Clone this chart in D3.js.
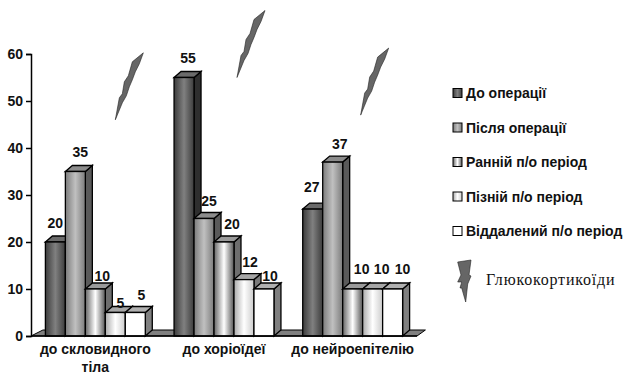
<!DOCTYPE html>
<html>
<head>
<meta charset="utf-8">
<style>
  body { margin: 0; background: #fff; }
  svg text { font-family: "Liberation Sans", Arial, sans-serif; font-weight: bold; fill: #111; }
</style>
</head>
<body>
<svg id="chart" width="625" height="376"></svg>
<script src="https://cdn.jsdelivr.net/npm/d3@7"></script>
<script>
const categories = ["до скловидного тіла", "до хоріоїдеї", "до нейроепітелію"];
const seriesNames = ["До операції", "Після операції", "Ранній п/о період", "Пізній п/о період", "Віддалений п/о період"];
const beforeOp = [20, 55, 27];
const afterOp = [35, 25, 37];
const earlyPeriod = [10, 20, 10];
const latePeriod = [5, 12, 10];
const remotePeriod = [5, 10, 10];
const yTicks = [0, 10, 20, 30, 40, 50, 60];
const steroidLevels = [46, 55, 47];
const steroidLabel = "Глюкокортикоїди";

const seriesValues = [beforeOp, afterOp, earlyPeriod, latePeriod, remotePeriod];

const width = 625;
const height = 376;
const margin = { top: 54, left: 31, bottom: 40, right: 208 };
const depthX = 7;
const depthY = 6;
const boltOffset = [20, 13, 8];

const fills = [
  { stops: ["#3c3c3c", "#808080", "#3c3c3c"], side: "#2e2e2e", top: "#6a6a6a" },
  { stops: ["#7c7c7c", "#c0c0c0", "#7c7c7c"], side: "#5a5a5a", top: "#8c8c8c" },
  { stops: ["#666666", "#ffffff", "#555555"], side: "#6e6e6e", top: "#9a9a9a" },
  { stops: ["#aaaaaa", "#ffffff", "#cccccc"], side: "#7a7a7a", top: "#a6a6a6" },
  { stops: ["#ffffff", "#ffffff"], side: "#808080", top: "#b0b0b0" }
];

// nudges for the value labels, they don't sit centred on the bars in the original
const labelShift = [
  [[0, -2], [5, -3], [7, 4], [5, 7], [6, -1]],
  [[4, -3], [5, -1], [8, -1], [6, -1], [6, 4]],
  [[-1, -5], [7, -1], [9, -3], [9, -3], [10, -3]]
];

const svg = d3.select("#chart");
const defs = svg.append("defs");

fills.forEach((f, i) => {
  const grad = defs.append("linearGradient").attr("id", "fill" + i);
  f.stops.forEach((c, j) => {
    grad.append("stop")
      .attr("offset", j / (f.stops.length - 1))
      .attr("stop-color", c);
  });
});

const x0 = d3.scaleBand()
  .domain(categories)
  .range([margin.left, width - margin.right])
  .padding(0);

const x1 = d3.scaleBand()
  .domain(d3.range(seriesNames.length))
  .range([0, x0.bandwidth()])
  .paddingOuter(0.72)
  .paddingInner(0);

const y = d3.scaleLinear()
  .domain([0, 60])
  .range([height - margin.bottom, margin.top]);

// floor strip behind the bars
const floorLeft = x0.range()[0];
const floorRight = x0.range()[1];
svg.append("path")
  .attr("d", d3.line()([
    [floorLeft, y(0)],
    [floorLeft + depthX * 1.7, y(0) - depthY],
    [floorRight + depthX * 1.2, y(0) - depthY],
    [floorRight, y(0)]
  ]) + "Z")
  .attr("fill", "#808080")
  .attr("stroke", "#000")
  .attr("stroke-width", 1);

const groups = svg.selectAll("g.group")
  .data(categories)
  .enter()
  .append("g")
  .attr("class", "group")
  .attr("transform", d => "translate(" + x0(d) + ",0)");

groups.each(function (cat, c) {
  const g = d3.select(this);
  seriesValues.forEach((vals, s) => {
    const bx = x1(s);
    const bw = x1.bandwidth();
    const by = y(vals[c]);
    const base = y(0);
    const bar = g.append("g").attr("class", "bar");
    bar.append("path")
      .attr("d", d3.line()([[bx + bw, by], [bx + bw + depthX, by - depthY], [bx + bw + depthX, base - depthY], [bx + bw, base]]) + "Z")
      .attr("fill", fills[s].side)
      .attr("stroke", "#000")
      .attr("stroke-width", 1.3);
    bar.append("path")
      .attr("d", d3.line()([[bx, by], [bx + depthX, by - depthY], [bx + bw + depthX, by - depthY], [bx + bw, by]]) + "Z")
      .attr("fill", fills[s].top)
      .attr("stroke", "#000")
      .attr("stroke-width", 1.3);
    bar.append("rect")
      .attr("x", bx)
      .attr("y", by)
      .attr("width", bw)
      .attr("height", base - by)
      .attr("fill", "url(#fill" + s + ")")
      .attr("stroke", "#000")
      .attr("stroke-width", 1.3);
  });
});

// value labels go on top of everything
groups.each(function (cat, c) {
  const g = d3.select(this);
  seriesValues.forEach((vals, s) => {
    const shift = labelShift[c][s];
    g.append("text")
      .attr("x", x1(s) + x1.bandwidth() / 2 + shift[0])
      .attr("y", y(vals[c]) - 12 + shift[1])
      .attr("text-anchor", "middle")
      .attr("font-size", 14)
      .text(vals[c]);
  });
});

// lightning bolts, path is relative to the lower tip
const boltShape = [[0, 0], [4, -22], [7, -26], [9, -38], [13, -44], [17, -58], [28, -67], [24, -56], [20, -48], [17, -40], [14, -33], [11, -24], [7, -17]];
const boltPath = d3.line()(boltShape) + "Z";

svg.selectAll("path.bolt")
  .data(categories)
  .enter()
  .append("path")
  .attr("class", "bolt")
  .attr("d", boltPath)
  .attr("transform", (d, i) => "translate(" + (x0(d) + x0.bandwidth() / 2 + boltOffset[i]) + "," + y(steroidLevels[i]) + ")")
  .attr("fill", "#666")
  .attr("stroke", "#222")
  .attr("stroke-width", 0.6);

// axes
const yAxis = d3.axisLeft(y).tickValues(yTicks).tickSize(5).tickPadding(3);
const gy = svg.append("g")
  .attr("transform", "translate(" + margin.left + ",0)")
  .call(yAxis);
gy.select(".domain").attr("stroke", "#000").attr("stroke-width", 1.5);
gy.selectAll(".tick line").attr("stroke", "#000").attr("stroke-width", 1.5);
gy.selectAll(".tick text").attr("font-size", 14);

svg.append("line")
  .attr("x1", floorLeft)
  .attr("x2", floorRight)
  .attr("y1", y(0))
  .attr("y2", y(0))
  .attr("stroke", "#000")
  .attr("stroke-width", 1.5);

// category labels, first one wraps
const catLines = categories.map(d => d === "до скловидного тіла" ? ["до скловидного", "тіла"] : [d]);
groups.each(function (cat, c) {
  catLines[c].forEach((t, k) => {
    d3.select(this).append("text")
      .attr("x", x0.bandwidth() / 2)
      .attr("y", y(0) + 18 + k * 18)
      .attr("text-anchor", "middle")
      .attr("font-size", 14)
      .text(t);
  });
});

// legend
const legendTop = 93;
const legendStep = 34.5;
const legend = svg.selectAll("g.legend")
  .data(seriesNames)
  .enter()
  .append("g")
  .attr("class", "legend")
  .attr("transform", (d, i) => "translate(453," + (legendTop + i * legendStep) + ")");
legend.append("rect")
  .attr("width", 9)
  .attr("height", 9)
  .attr("y", -4.5)
  .attr("fill", (d, i) => "url(#fill" + i + ")")
  .attr("stroke", "#000");
legend.append("text")
  .attr("x", 13)
  .attr("y", 5)
  .attr("font-size", 14)
  .text(d => d);

const legendBolt = [[12.7, 187], [26, 185], [24, 200], [26, 201], [22.7, 209], [20.7, 227], [16.7, 213], [15, 213], [16.7, 207], [12.7, 207], [16, 200]];
svg.append("path")
  .attr("d", d3.line()(legendBolt) + "Z")
  .attr("transform", "translate(445,75)")
  .attr("fill", "#666")
  .attr("stroke", "#222")
  .attr("stroke-width", 0.6);
svg.append("text")
  .attr("x", 486)
  .attr("y", 285)
  .attr("font-size", 16)
  .style("font-family", "'Liberation Serif', serif")
  .style("font-weight", "normal")
  .style("letter-spacing", "0.8px")
  .text(steroidLabel);
</script>
</body>
</html>
